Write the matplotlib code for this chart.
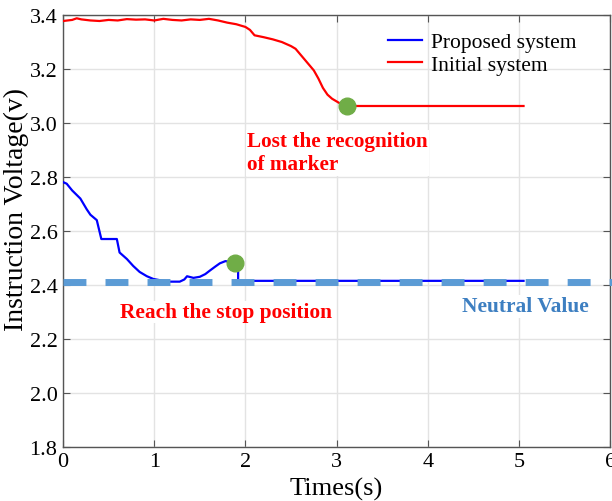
import matplotlib.pyplot as plt

plt.rcParams['font.family'] = ['Liberation Serif', 'DejaVu Serif']

# Initial system (loses the marker at ~3.1 s)
red_t = [0, 0.1, 0.15, 0.2, 0.3, 0.4, 0.5, 0.6, 0.7, 0.8, 0.9, 1.0, 1.1, 1.2,
         1.3, 1.4, 1.5, 1.6, 1.7, 1.75, 1.8, 1.9, 2.0, 2.05, 2.1, 2.2, 2.3,
         2.4, 2.5, 2.55, 2.6, 2.65, 2.7, 2.75, 2.8, 2.85, 2.9, 2.95, 3.0,
         3.05, 3.11, 5.05]
red_v = [3.378, 3.382, 3.388, 3.384, 3.380, 3.378, 3.382, 3.380, 3.385, 3.383,
         3.384, 3.380, 3.386, 3.382, 3.380, 3.384, 3.382, 3.386, 3.380, 3.376,
         3.372, 3.366, 3.356, 3.345, 3.325, 3.318, 3.310, 3.300, 3.285, 3.275,
         3.255, 3.235, 3.215, 3.195, 3.165, 3.130, 3.105, 3.090, 3.080, 3.070,
         3.063, 3.063]

# Proposed system (reaches the stop position at ~1.9 s)
blue_t = [0, 0.04, 0.1, 0.19, 0.26, 0.3, 0.37, 0.42, 0.59, 0.62, 0.7, 0.77,
          0.84, 0.92, 0.99, 1.1, 1.17, 1.28, 1.33, 1.36, 1.43, 1.5, 1.56,
          1.61, 1.67, 1.72, 1.78, 1.83, 1.89, 1.92, 1.92, 5.05]
blue_v = [2.781, 2.775, 2.75, 2.72, 2.68, 2.66, 2.64, 2.57, 2.57, 2.52, 2.496,
          2.47, 2.448, 2.432, 2.422, 2.415, 2.412, 2.412, 2.42, 2.432, 2.426,
          2.43, 2.44, 2.453, 2.468, 2.48, 2.488, 2.486, 2.48, 2.48, 2.415,
          2.415]

neutral = 2.41
events_t = [1.89, 3.11]
events_v = [2.48, 3.063]

fig = plt.figure(figsize=(6.12, 5.02), dpi=100)
ax = fig.add_axes([0.103, 0.108, 0.894, 0.860])

ax.plot(blue_t, blue_v, color='#0000ff', lw=1.6, label='Proposed system', zorder=3)
ax.plot(red_t, red_v, color='#ff0000', lw=1.6, label='Initial system', zorder=3)

dash = ax.plot([0, 6.02], [neutral, neutral], color='#5b9bd5', lw=5,
               solid_capstyle='butt', dash_capstyle='butt', clip_on=False,
               zorder=4)[0]
dash.set_dashes((3.3, 2.75))

ax.plot(events_t, events_v, 'o', color='#70ad47', ms=12, zorder=5)

ax.text(2.02, 2.89, 'Lost the recognition\nof marker', color='#ff0000',
        fontsize=15.3, fontweight='bold', va='center', linespacing=1.2,
        bbox=dict(facecolor='white', edgecolor='none', pad=1), zorder=2)
ax.text(0.63, 2.3, 'Reach the stop position', color='#ff0000',
        fontsize=15.4, fontweight='bold', va='center',
        bbox=dict(facecolor='white', edgecolor='none', pad=1), zorder=2)
ax.text(4.38, 2.32, 'Neutral Value', color='#3d7fc1',
        fontsize=15.4, fontweight='bold', va='center',
        bbox=dict(facecolor='white', edgecolor='none', pad=1), zorder=2)

ax.set_xlim(0, 6)
ax.set_ylim(1.8, 3.4)
ax.set_xticks(range(0, 7))
ax.set_yticks([1.8, 2.0, 2.2, 2.4, 2.6, 2.8, 3.0, 3.2, 3.4])
ax.set_yticklabels(['%.1f' % v for v in ax.get_yticks()])
ax.tick_params(direction='in', top=True, right=True, labelsize=16,
               length=5, color='#555555', pad=4)
ax.grid(True, color='#e3e3e3', lw=1, zorder=0)
ax.set_axisbelow(True)
for s in ax.spines.values():
    s.set_color('#555555')
    s.set_linewidth(1)

ax.set_xlabel('Times(s)', fontsize=19, labelpad=4)
ax.set_ylabel('Instruction Voltage(v)', fontsize=20)
ax.yaxis.set_label_coords(-0.062, 0.553)

ax.legend(loc='upper right', bbox_to_anchor=(0.97, 1.0), frameon=False,
          fontsize=15.5, handlelength=1.6, handletextpad=0.4,
          labelspacing=0.1, borderaxespad=0.4)

fig.savefig('out.png', dpi=100)
